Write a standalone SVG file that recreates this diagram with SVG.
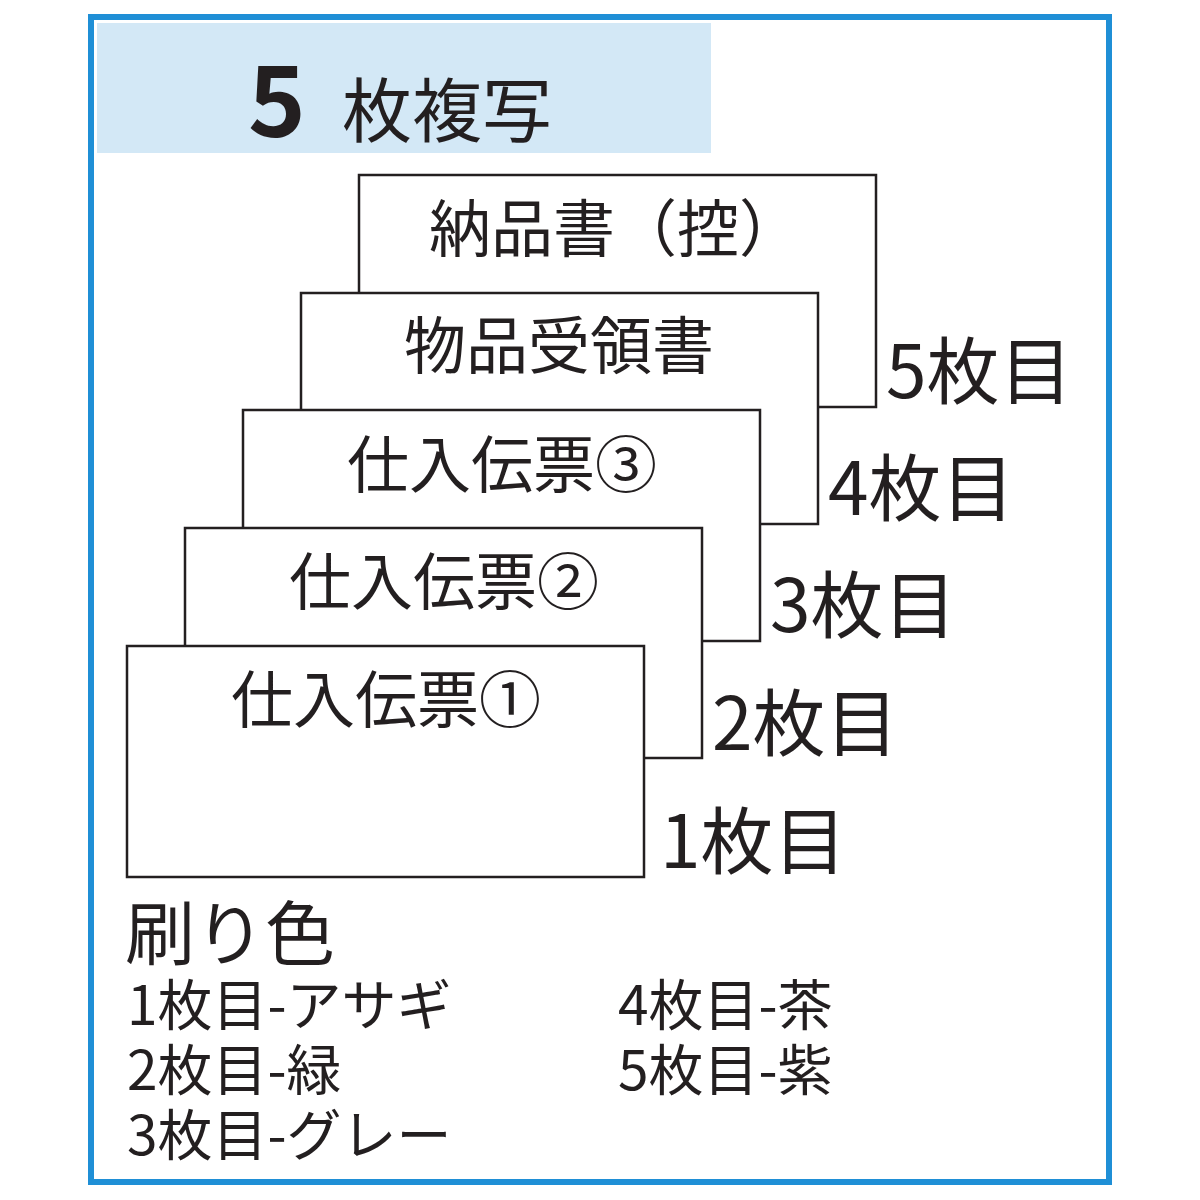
<svg xmlns="http://www.w3.org/2000/svg" width="1200" height="1200" viewBox="0 0 1200 1200">
<style>
.c{fill:#fff;stroke:#231f20;stroke-width:2.5}
text{font-family:"Noto Sans CJK JP","Noto Sans",sans-serif;fill:#231f20}
.t{font-size:62px;text-anchor:middle}
.n{font-size:73px}
.l{font-size:55px}
</style>
<rect width="1200" height="1200" fill="#fff"/>
<rect x="91" y="17" width="1018" height="1165" fill="none" stroke="#1f8fd6" stroke-width="6"/>
<rect x="97" y="23" width="614" height="130" fill="#d3e8f6"/>
<g id="title"><text x="248" y="137" style="font-size:98px;font-weight:bold">5</text><text x="342" y="137" style="font-size:70px">枚複写</text></g>
<g id="card5"><rect class="c" x="359" y="175" width="517" height="232"/><text class="t" x="615" y="252">納品書（控）</text><text class="n" x="886" y="398">5枚目</text></g>
<g id="card4"><rect class="c" x="301" y="293" width="517" height="231"/><text class="t" x="559" y="369">物品受領書</text><text class="n" x="828" y="515">4枚目</text></g>
<g id="card3"><rect class="c" x="243" y="410" width="517" height="231"/><text class="t" x="502" y="488">仕入伝票③</text><text class="n" x="770" y="632">3枚目</text></g>
<g id="card2"><rect class="c" x="185" y="528" width="517" height="230"/><text class="t" x="444" y="605">仕入伝票②</text><text class="n" x="712" y="750">2枚目</text></g>
<g id="card1"><rect class="c" x="127" y="646" width="517" height="231"/><text class="t" x="386" y="723">仕入伝票①</text><text class="n" x="660" y="868">1枚目</text></g>
<g id="legend">
<text x="125" y="960" style="font-size:70px">刷り色</text>
<text class="l" x="127" y="1025">1枚目-アサギ</text>
<text class="l" x="127" y="1090">2枚目-緑</text>
<text class="l" x="127" y="1155">3枚目-グレー</text>
<text class="l" x="618" y="1025">4枚目-茶</text>
<text class="l" x="618" y="1090">5枚目-紫</text>
</g>
</svg>
